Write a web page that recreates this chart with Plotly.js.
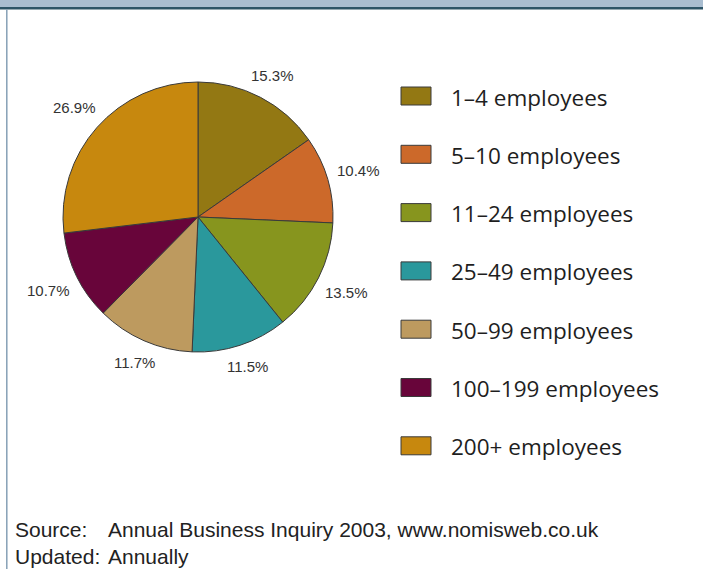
<!DOCTYPE html>
<html>
<head>
<meta charset="utf-8">
<script src="https://cdn.plot.ly/plotly-3.0.1.min.js"></script>
<style>html,body{margin:0;padding:0;background:#fff;}#chart{width:703px;height:569px;}</style>
</head>
<body>
<div id="chart"></div>
<script>
const categories = ["1–4 employees", "5–10 employees", "11–24 employees", "25–49 employees", "50–99 employees", "100–199 employees", "200+ employees"];
const shares = [15.3, 10.4, 13.5, 11.5, 11.7, 10.7, 26.9];
const colors = ["#937813", "#cc692a", "#87951e", "#2a989c", "#bd9a5f", "#68053a", "#c7880e"];
const sourceKeys = ["Source:", "Updated:"];
const sourceValues = ["Annual Business Inquiry 2003, www.nomisweb.co.uk", "Annually"];

const W = 703, H = 569;
const px = x => x / W;
const py = y => 1 - y / H;

const shapes = [
  {type: "rect", xref: "paper", yref: "paper", x0: 0, x1: 1, y0: py(7), y1: 1, fillcolor: "#a9bdd0", line: {width: 0}},
  {type: "rect", xref: "paper", yref: "paper", x0: 0, x1: 1, y0: py(9.5), y1: py(7), fillcolor: "#2d5467", line: {width: 0}},
  {type: "line", xref: "paper", yref: "paper", x0: px(6.8), x1: px(6.8), y0: 0, y1: py(9.5), line: {color: "#86a0b6", width: 1.5}}
];
const annotations = [];

// legend (drawn manually to match spacing)
const legTop = 96, legStep = 58.3;
categories.forEach((c, i) => {
  const yc = legTop + i * legStep;
  shapes.push({type: "rect", xref: "paper", yref: "paper", x0: px(401), x1: px(431), y0: py(yc + 9), y1: py(yc - 9),
    fillcolor: colors[i], line: {color: "#3a3a3a", width: 1}});
  annotations.push({xref: "paper", yref: "paper", x: px(449), y: py(yc + 1), xanchor: "left", yanchor: "middle", showarrow: false,
    text: c, font: {family: "Open Sans", size: 22.5, weight: 500, color: "#1e1e1e"}});
});

// source block: two columns, two lines each
const srcFont = {family: "Liberation Sans, Arial", size: 21, color: "#222"};
annotations.push({xref: "paper", yref: "paper", x: px(13), y: py(542.5), xanchor: "left", yanchor: "middle", align: "left",
  showarrow: false, text: sourceKeys.join("<br>"), font: srcFont});
annotations.push({xref: "paper", yref: "paper", x: px(106), y: py(542.5), xanchor: "left", yanchor: "middle", align: "left",
  showarrow: false, text: sourceValues.join("<br>"), font: srcFont});

// pie geometry
const cx = 198, cy = 217, R = 135;
const total = shares.reduce((a, b) => a + b, 0);
let cum = 0;
shares.forEach((v, i) => {
  const th = (cum + v / 2) / total * 2 * Math.PI;
  cum += v;
  const s = Math.sin(th), c = Math.cos(th);
  const off = R + 11 + Math.abs(s) * 20 + Math.abs(c) * 5.5;
  annotations.push({xref: "paper", yref: "paper", x: px(cx + s * off), y: py(cy - c * off), xanchor: "center", yanchor: "middle",
    showarrow: false, text: v.toFixed(1) + "%",
    font: {family: "Liberation Sans Narrow, Arial Narrow, Liberation Sans", size: 15, color: "#333"}});
});

const trace = {
  type: "pie",
  labels: categories,
  values: shares,
  sort: false,
  direction: "clockwise",
  rotation: 0,
  marker: {colors: colors, line: {color: "#3a3a3a", width: 1}},
  textinfo: "none",
  hoverinfo: "label+value",
  showlegend: false,
  automargin: false,
  domain: {x: [px(cx - R), px(cx + R)], y: [py(cy + R), py(cy - R)]}
};

Plotly.newPlot("chart", [trace], {
  width: W, height: H,
  margin: {l: 0, r: 0, t: 0, b: 0},
  paper_bgcolor: "#fff",
  showlegend: false,
  shapes: shapes,
  annotations: annotations
}, {displayModeBar: false, staticPlot: true});
</script>
</body>
</html>
